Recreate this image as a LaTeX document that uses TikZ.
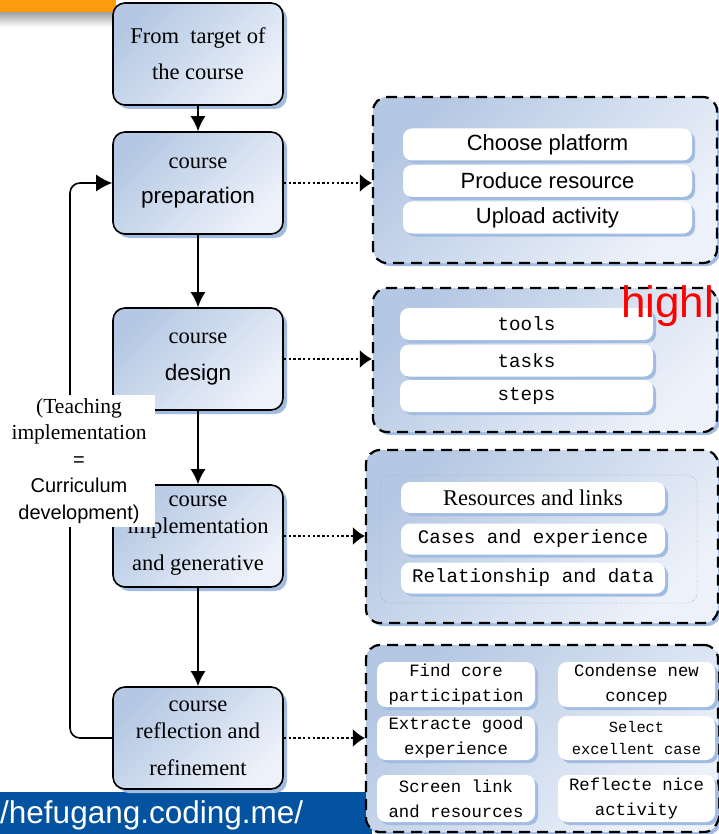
\documentclass[tikz,border=0pt]{standalone}
\usepackage{fontspec}
\setmainfont{Liberation Serif}
\setsansfont{Liberation Sans}
\setmonofont{Liberation Mono}
\usetikzlibrary{arrows.meta,shadows}

\definecolor{boxtop}{HTML}{B5C8E3}
\definecolor{boxbot}{HTML}{EDF2FA}
\definecolor{shadowblue}{HTML}{A2BBE0}
\definecolor{barblue}{HTML}{0453A1}
\definecolor{bannerorange}{HTML}{FA9C0C}

\tikzset{
  stagebox/.style={draw, line width=1.6pt, rounded corners=12pt,
    top color=boxtop, bottom color=boxbot, shading angle=45,
    minimum width=170pt, minimum height=102pt, inner sep=2pt, align=center,
    font=\fontsize{22.5}{27}\selectfont,
    drop shadow={shadow xshift=4pt, shadow yshift=-4pt, fill=shadowblue, opacity=1}},
  panelbox/.style={draw, line width=2.2pt, dash pattern=on 11pt off 7pt,
    rounded corners=14pt, top color=boxtop, bottom color=boxbot, shading angle=45,
    inner sep=0pt,
    drop shadow={shadow xshift=3pt, shadow yshift=-3pt, fill=shadowblue, opacity=1}},
  itembar/.style={fill=white, rounded corners=9pt, inner sep=0pt, align=center,
    drop shadow={shadow xshift=3pt, shadow yshift=-3pt, fill=shadowblue, opacity=1}},
  flow/.style={line width=1.6pt, -{Latex[length=15pt,width=15pt]}},
  dotlink/.style={line width=1.6pt, dash pattern=on 2.4pt off 2.4pt,
    -{Latex[length=12pt,width=18pt]}},
  sansitem/.style={font=\sffamily\fontsize{22}{26}\selectfont},
  monoitem/.style={font=\ttfamily\fontsize{19.2}{24}\selectfont},
  monopair/.style={font=\ttfamily\fontsize{17.3}{25}\selectfont},
}

\begin{document}
\begin{tikzpicture}[x=1pt, y=-1pt]
\useasboundingbox (0,0) rectangle (719,834);

% orange banner strip with its soft grey shade
\fill[bannerorange] (0,0) rectangle (116,13);
\shade[top color=black!35, bottom color=white] (0,13) rectangle (116,27);

% footer band with the site address
\fill[barblue] (0,792) rectangle (372,834);
\node[anchor=base west, inner sep=0pt, text=white, font=\sffamily\fontsize{31.5}{33}\selectfont]
  (url) at (0,823) {/hefugang.coding.me/};

% main stages
\node[stagebox] (b1) at (198,54) {From\ \ target of\\[9pt]the course};
\node[stagebox] (b2) at (198,183) {course\\[8pt]{\sffamily preparation}};
\node[stagebox] (b3) at (198,359) {course\\[10pt]{\sffamily design}};
\node[stagebox] (b4) at (198,536) {course\\implementation\\[10pt]and generative};
\node[stagebox] (b5) at (198,738) {course\\reflection and\\[10pt]refinement};

\draw[flow] (b1.south) -- (b2.north);
\draw[flow] (b2.south) -- (b3.north);
\draw[flow] (b3.south) -- (b4.north);
\draw[flow] (b4.south) -- (b5.north);

% feedback loop from reflection back to preparation
\coordinate (loopx) at (70,460);
\draw[line width=1.6pt, rounded corners=10pt, -{Latex[length=16pt,width=17pt]}]
  (b5.west) -| (loopx) |- (b2.west);

\node[fill=white, minimum width=155pt, minimum height=132pt, inner sep=0pt] (teachbg) at (77.5,461) {};
\node[align=center, inner sep=0pt, font=\fontsize{21.5}{26.5}\selectfont] (teach) at (79,461)
  {(Teaching\\implementation\\{\sffamily\fontsize{20}{26.5}\selectfont =}\\
   {\sffamily\fontsize{20}{26.5}\selectfont Curriculum}\\
   {\sffamily\fontsize{20}{26.5}\selectfont development)}};

% platform panel
\node[panelbox, minimum width=344pt, minimum height=166pt] (pa) at (545,180) {};
\node[itembar, sansitem, minimum width=289pt, minimum height=32pt] (pa1) at (547.5,144.5) {Choose platform};
\node[itembar, sansitem, minimum width=289pt, minimum height=32pt] (pa2) at (547.5,181) {Produce resource};
\node[itembar, sansitem, minimum width=289pt, minimum height=32pt] (pa3) at (547.5,217.5) {Upload activity};

% design panel
\node[panelbox, minimum width=344pt, minimum height=144pt] (pb) at (545,360) {};
\node[itembar, monoitem, minimum width=253pt, minimum height=32pt] (pb1) at (526.5,324) {tools};
\node[itembar, monoitem, minimum width=253pt, minimum height=32pt] (pb2) at (526.5,360.5) {tasks};
\node[itembar, monoitem, minimum width=253pt, minimum height=32pt] (pb3) at (526.5,396) {steps};
\node[anchor=base west, inner sep=0pt, text=red, font=\sffamily\fontsize{44}{48}\selectfont]
  (hl) at (621,317) {highl};

% implementation panel
\node[panelbox, minimum width=352pt, minimum height=173pt] (pc) at (542,536.5) {};
\node[draw=black!45, line width=0.5pt, dotted, rounded corners=10pt, minimum width=317pt,
  minimum height=128pt, inner sep=0pt] (pcin) at (538.5,539) {};
\node[itembar, font=\fontsize{22.5}{26}\selectfont, minimum width=264pt, minimum height=31pt] (pc1) at (533,497.5) {Resources and links};
\node[itembar, monoitem, minimum width=264pt, minimum height=31pt] (pc2) at (533,539) {Cases and experience};
\node[itembar, monoitem, minimum width=264pt, minimum height=31pt] (pc3) at (533,578) {Relationship and data};

% reflection panel
\node[panelbox, minimum width=352pt, minimum height=187pt] (pd) at (542,738.5) {};
\node[itembar, monopair, minimum width=158pt, minimum height=45pt] (pd1) at (456,684.5) {Find core\\participation};
\node[itembar, monopair, minimum width=157pt, minimum height=45pt] (pd2) at (636.5,684.5) {Condense new\\concep};
\node[itembar, monopair, minimum width=158pt, minimum height=44pt] (pd3) at (456,738) {Extracte good\\experience};
\node[itembar, font=\ttfamily\fontsize{15.4}{22}\selectfont, minimum width=157pt, minimum height=44pt] (pd4) at (636.5,738) {Select\\excellent case};
\node[itembar, monopair, minimum width=158pt, minimum height=47pt] (pd5) at (456,798.5) {Screen link\\and resources};
\node[itembar, monopair, minimum width=157pt, minimum height=47pt] (pd6) at (636.5,798.5) {Reflecte nice\\activity};

% dotted links from stages to their panels
\draw[dotlink] (b2.east) -- (b2.east -| pa.west);
\draw[dotlink] (b3.east) -- (b3.east -| pb.west);
\draw[dotlink] (b4.east) -- (b4.east -| pc.west);
\draw[dotlink] (b5.east) -- (b5.east -| pd.west);
\end{tikzpicture}
\end{document}
